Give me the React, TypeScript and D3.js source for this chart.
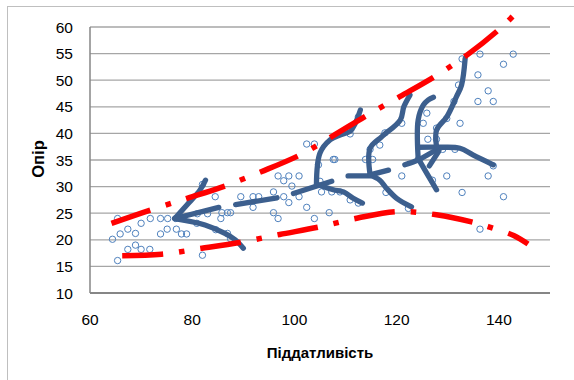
import React from "react";
import * as d3 from "d3";

const xTicks = [60, 80, 100, 120, 140];
const yTicks = [10, 15, 20, 25, 30, 35, 40, 45, 50, 55, 60];
const xTitle = "Піддатливість";
const yTitle = "Опір";

// observed points [піддатливість, опір]
const observations: [number, number][] = [
  [64.4, 20.1], [65.4, 24.0], [65.9, 21.1], [65.4, 16.1], [67.4, 22.0], [67.4, 18.2],
  [68.9, 21.2], [68.9, 19.0], [70, 23.1], [70, 18.2], [71.7, 18.2], [71.8, 24.0],
  [73.8, 24.0], [73.8, 21.1], [75.2, 24.0], [75.1, 22.0], [76.9, 22.0], [76.8, 24.0],
  [77.9, 21.1], [78.9, 21.1], [80.9, 23.1],
  [82.0, 17.1], [82.0, 30.4], [84.5, 28.1], [81, 24.9], [83, 24.9], [85.8, 25.1],
  [85.6, 24.0], [86.9, 25.1], [87.5, 25.1], [84.6, 21.9], [86.9, 21.2], [87.5, 20.2],
  [89.5, 28.1], [91.9, 28.1], [93, 28.1], [91.9, 26.1], [95.9, 29.0], [95.9, 25.1],
  [96.8, 24.0], [96.8, 32.0], [97.9, 31.1], [98.9, 32.0], [100.9, 32.0], [99.5, 30.1],
  [97.9, 28.1], [98.9, 27.0], [100.9, 28.1], [102.4, 26.1], [103.9, 24.0],
  [102.4, 38.0], [103.9, 38.0], [104.7, 34.1], [106.8, 25.1], [107.6, 35.1], [107.9, 35.1],
  [105.3, 29.0], [107.3, 29.0], [108.9, 29.0], [110.9, 27.5], [112.5, 26.9], [110.9, 39.9],
  [112.5, 43.1], [113.9, 35.1], [115.3, 35.1], [114.8, 37.0], [116.7, 37.8], [117.7, 40.1],
  [121, 41.9], [121, 32.0], [117.9, 28.9], [122.3, 25.9], [105, 31],
  [125.9, 43.8], [126.1, 38.9], [127.8, 41.0], [127.8, 38.9], [125.2, 41.9], [127.0, 31.2],
  [129.8, 32.0], [132.8, 28.9], [131.4, 37.0], [129.0, 37.0], [129.8, 42.8], [132.4, 41.9],
  [131.2, 46.0], [132.1, 49.1], [132.8, 54.0], [136.3, 54.9], [135.9, 51.0], [137.9, 48.0],
  [135.9, 46.0], [138.9, 46.0], [140.9, 53.0], [142.8, 54.9], [138.9, 33.9], [137.9, 32.0],
  [140.9, 28.1], [136.3, 22.0],
];

// hand-drawn trajectory strokes
const trajectories: [number, number][][] = [
  [[82.6, 31.2], [81.5, 29.3], [79, 26.6], [76.6, 24.0]],
  [[76.6, 24.0], [85.2, 26.1]],
  [[76.6, 24.0], [82.5, 22.8], [86.4, 21.2], [88.4, 20.0], [90, 18.4]],
  [[88.5, 26.6], [96.6, 27.9]],
  [[99.8, 28.7], [107.3, 31.0]],
  [[104.3, 30.3], [105, 36.3], [107, 38.8], [108.9, 39.7], [110.9, 40.4], [111.9, 41.9], [112.9, 44.4]],
  [[104.8, 30.3], [107.6, 29.4], [109.6, 29.0], [111.5, 27.8], [113.3, 26.9]],
  [[110.5, 32.0], [114.8, 32.0]],
  [[114.8, 32.2], [118.4, 33.1]],
  [[114.8, 32.2], [114.8, 37.2], [117.1, 39.4], [120.7, 42.5], [121.4, 45], [122.6, 47.2]],
  [[114.8, 32.2], [116.7, 31.2], [118, 29.7], [120, 27.8], [122.9, 26.2]],
  [[124.2, 35.4], [124.2, 42.5], [125.2, 45.3], [126.2, 46.3], [127.2, 46.8]],
  [[124.2, 37.4], [128.8, 37.4], [132.4, 37.2], [135, 35.9], [138.9, 34.1]],
  [[121.6, 34.1], [124.2, 35.0], [127.2, 36.6], [128.5, 37.2]],
  [[124.2, 35.3], [125.9, 32.5], [127.8, 29.4]],
  [[126.4, 33.9], [128.2, 36.6]],
  [[127.8, 37.5], [127.8, 40.6], [129.8, 43.1], [131.7, 46.9], [132.7, 49.1], [133.4, 54.1]],
];

// boundary curves
const upperBound: [number, number][] = [
  [64.2, 23.1], [71.8, 25.6], [79, 27.8], [85.5, 29.8], [93.5, 32.8], [101.2, 36.0],
  [107.3, 39.4], [114.2, 43.4], [120.6, 46.9], [127.8, 50.9], [134, 54.9], [140.1, 59.6], [142.9, 62.2],
];
const lowerBound: [number, number][] = [
  [66.3, 17.0], [74, 17.3], [81.9, 18.4], [89.8, 19.6], [97.1, 21.0], [104.8, 22.4],
  [112.4, 24.1], [120.3, 25.3], [127.8, 24.7], [135.7, 23.1], [139.1, 22.1], [142.9, 20.8], [145.7, 19.2],
];

const W = 574;
const H = 380;
const font = "'Liberation Sans', Arial, sans-serif";

export default function App() {
  const x = d3.scaleLinear().domain([60, 150]).range([90, 550]);
  const y = d3.scaleLinear().domain([10, 60]).range([293, 27]);
  const smooth = d3
    .line<[number, number]>()
    .x((d) => x(d[0]))
    .y((d) => y(d[1]))
    .curve(d3.curveCatmullRom.alpha(0.5));

  return (
    <svg width={W} height={H} style={{ position: "absolute", left: 0, top: 0, background: "#fff" }}>
      <rect x={7.5} y={6.5} width={600} height={400} fill="#fff" stroke="#BFBFBF" strokeWidth={1} />
      {yTicks.filter((t) => t !== 10).map((t) => (
        <line key={t} x1={x(60)} x2={x(150)} y1={y(t)} y2={y(t)} stroke="#A6A6A6" strokeWidth={1.3} />
      ))}
      <line x1={x(60)} x2={x(60)} y1={y(60)} y2={y(10)} stroke="#868686" strokeWidth={1.5} />
      <line x1={x(60)} x2={x(150)} y1={y(10)} y2={y(10)} stroke="#868686" strokeWidth={1.8} />
      {yTicks.map((t) => (
        <text key={t} x={73} y={y(t)} dy="0.36em" textAnchor="end" fontFamily={font} fontSize={15.5} fill="#000">
          {t}
        </text>
      ))}
      {xTicks.map((t) => (
        <text key={t} x={x(t)} y={325} textAnchor="middle" fontFamily={font} fontSize={15.5} fill="#000">
          {t}
        </text>
      ))}
      <text x={320} y={358} textAnchor="middle" fontFamily={font} fontSize={15} fontWeight="bold" fill="#000">
        {xTitle}
      </text>
      <text
        transform={`translate(44,159) rotate(-90)`}
        textAnchor="middle"
        fontFamily={font}
        fontSize={16.5}
        fontWeight="bold"
        fill="#000"
      >
        {yTitle}
      </text>
      {observations.map((d, i) => (
        <circle key={i} cx={x(d[0])} cy={y(d[1])} r={3.2} fill="none" stroke="#4F81BD" strokeWidth={1} />
      ))}
      {trajectories.map((t, i) => (
        <path
          key={i}
          d={smooth(t) || ""}
          fill="none"
          stroke="#3C5F8E"
          strokeWidth={5.3}
          strokeLinecap="round"
          strokeLinejoin="round"
        />
      ))}
      {[upperBound, lowerBound].map((b, i) => (
        <path
          key={i}
          d={smooth(b) || ""}
          fill="none"
          stroke="#FF0000"
          strokeWidth={5.5}
          strokeDasharray="41 16 5.5 16"
        />
      ))}
    </svg>
  );
}
